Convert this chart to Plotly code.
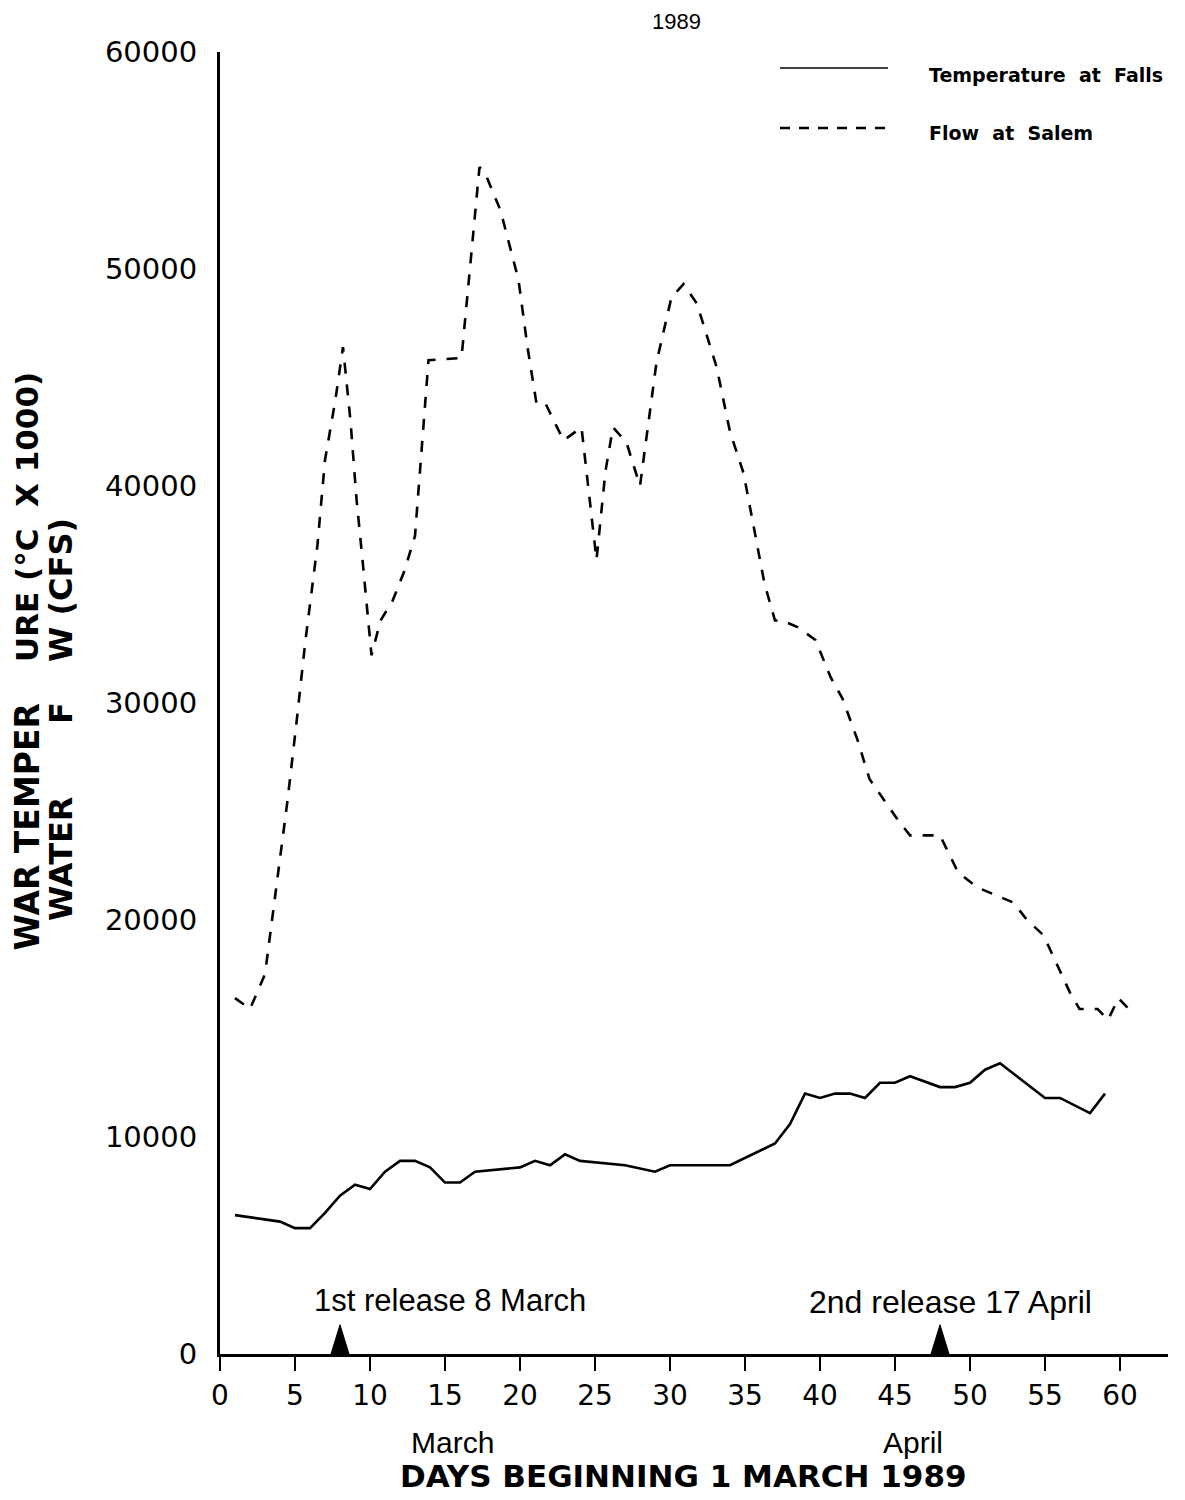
import plotly.graph_objects as go

# ---------------- data ----------------
temp_days = [1, 4, 5, 6, 7, 8, 9, 10, 11, 12, 13, 14, 15, 16, 17, 20, 21, 22, 23, 24,
             27, 29, 30, 34, 37, 38, 39, 40, 41, 42, 43, 44, 45, 46, 48, 49, 50, 51,
             52, 55, 56, 58, 59]
temp_vals = [6400, 6100, 5800, 5800, 6500, 7300, 7800, 7600, 8400, 8900, 8900, 8600,
             7900, 7900, 8400, 8600, 8900, 8700, 9200, 8900, 8700, 8400, 8700, 8700,
             9700, 10600, 12000, 11800, 12000, 12000, 11800, 12500, 12500, 12800,
             12300, 12300, 12500, 13100, 13400, 11800, 11800, 11100, 12000]

flow_days = [1.0, 2.0, 3.0, 4.5, 5.1, 5.7, 6.5, 7.0, 7.7, 8.2, 8.7, 9.1, 9.5, 10.1,
             10.7, 11.5, 12.3, 13.0, 13.9, 16.1, 17.3, 17.8, 18.7, 19.9, 20.5, 21.1,
             21.7, 22.9, 24.1, 25.1, 25.7, 26.2, 27.1, 28.0, 29.1, 30.1, 30.9, 31.8,
             33.1, 34.0, 34.9, 36.3, 37.0, 37.5, 38.5, 39.7, 40.7, 41.5, 42.5, 43.3,
             45.1, 46.0, 48.0, 49.2, 50.5, 52.9, 53.8, 54.9, 56.7, 57.3, 58.5, 59.2,
             59.9, 61.0]
flow_vals = [16400, 15900, 17500, 25500, 29100, 32900, 37300, 41200, 44000, 46400,
             43000, 39400, 36600, 32200, 33800, 34700, 36100, 37700, 45800, 45900,
             54700, 54200, 52700, 49500, 46400, 43800, 43800, 42100, 42700, 36600,
             40700, 42700, 42000, 40000, 45700, 48700, 49300, 48400, 45500, 42500,
             40600, 35500, 33800, 33800, 33500, 32900, 31200, 30200, 28300, 26500,
             24700, 23900, 23900, 22200, 21500, 20800, 20000, 19300, 16600, 15900,
             15900, 15400, 16400, 15600]

release_days = [8, 48]
release_marker_height = 1350      # flow units, height of the release arrowheads
release_marker_halfwidth = 0.6    # days
release_labels = ["1st release 8 March", "2nd release 17 April"]

x_ticks = list(range(0, 61, 5))
y_ticks = [0, 10000, 20000, 30000, 40000, 50000, 60000]
y_tick_text = [str(v) for v in y_ticks]

# ---------------- figure ----------------
W, H = 1185, 1500
L, R, T, B = 220, 17, 52, 146
pw, ph = W - L - R, H - T - B


def px(xp):
    return (xp - L) / pw


def py(yp):
    return (H - B - yp) / ph


fig = go.Figure()

fig.add_trace(go.Scatter(
    x=temp_days, y=temp_vals, mode="lines",
    line=dict(color="black", width=2.6), name="Temperature at Falls"))

fig.add_trace(go.Scatter(
    x=flow_days, y=flow_vals, mode="lines",
    line=dict(color="black", width=2.6, dash="11px,11px"), name="Flow at Salem"))

# release arrowheads (filled triangles sitting on the x axis)
for d in release_days:
    fig.add_trace(go.Scatter(
        x=[d - release_marker_halfwidth, d, d + release_marker_halfwidth, d - release_marker_halfwidth],
        y=[0, release_marker_height, 0, 0], mode="lines", fill="toself",
        fillcolor="black", line=dict(color="black", width=1),
        showlegend=False, hoverinfo="skip"))


def A(text, x, y, size, family="Liberation Sans", xanchor="center", yanchor="middle", **kw):
    d = dict(text=text, x=px(x), y=py(y), xref="paper", yref="paper",
             xanchor=xanchor, yanchor=yanchor, showarrow=False,
             font=dict(size=size, family=family, color="black"))
    d.update(kw)
    return d


ann = [
    A("1989", 676, 22, 22),
    A("<b>Temperature  at  Falls</b>", 927, 75, 19, family="DejaVu Sans", xanchor="left"),
    A("<b>Flow  at  Salem</b>", 927, 133, 19, family="DejaVu Sans", xanchor="left"),
    A(release_labels[0], 450, 1300, 31),
    A(release_labels[1], 950, 1302, 32),
    A("March", 452, 1442, 30),
    A("April", 913, 1442, 30),
    A("<b>DAYS BEGINNING 1 MARCH 1989</b>", 683, 1476, 31, family="DejaVu Sans"),
]
yfam = "DejaVu Sans"
ann += [
    A("<b>WAR TEMPER</b>", 27, 702, 33, family=yfam, yanchor="top", textangle=-90),
    A("<b>URE (°C  X 1000)</b>", 27, 664, 31, family=yfam, yanchor="bottom", textangle=-90),
    A("<b>WATER</b>", 61, 795, 32, family=yfam, yanchor="top", textangle=-90),
    A("<b>F</b>", 61, 700, 32, family=yfam, yanchor="top", textangle=-90),
    A("<b>W (CFS)</b>", 61, 664, 32, family=yfam, yanchor="bottom", textangle=-90),
]

shapes = [
    dict(type="line", xref="paper", yref="paper", x0=px(780), x1=px(888), y0=py(68), y1=py(68),
         line=dict(color="black", width=1.6)),
    dict(type="line", xref="paper", yref="paper", x0=px(780), x1=px(885), y0=py(128), y1=py(128),
         line=dict(color="black", width=2.6, dash="10px,9px")),
]

fig.update_layout(
    width=W, height=H,
    margin=dict(l=L, r=R, t=T, b=B, pad=0),
    paper_bgcolor="white", plot_bgcolor="white",
    showlegend=False,
    annotations=ann, shapes=shapes,
    xaxis=dict(range=[0, 63.2], tickvals=x_ticks, ticktext=[str(v) for v in x_ticks],
               showgrid=False, zeroline=False, showline=True, linecolor="black", linewidth=3,
               ticks="outside", ticklen=14, tickwidth=1.5, tickcolor="black",
               tickfont=dict(size=28, family="DejaVu Sans", color="black")),
    yaxis=dict(range=[0, 60000], tickvals=y_ticks, ticktext=y_tick_text,
               showgrid=False, zeroline=False, showline=True, linecolor="black", linewidth=3,
               ticks="", ticklabelstandoff=14,
               tickfont=dict(size=29, family="DejaVu Sans", color="black")),
)

fig.write_html("out.html")
